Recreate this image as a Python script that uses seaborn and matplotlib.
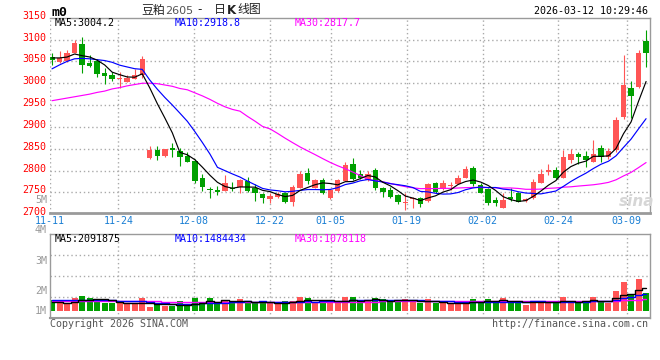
import numpy as np
import pandas as pd
import matplotlib
matplotlib.use("Agg")
import matplotlib.pyplot as plt
import matplotlib.transforms as mtrans
import seaborn as sns

# ---------------- data ----------------
opens = [3060, 3048, 3050, 3070, 3089, 3047, 3052, 3023, 3020, 3010,
         3003, 3010, 3018, 2828, 2848, 2834, 2851, 2844, 2834, 2822,
         2783, 2758, 2755, 2754, 2760, 2762, 2777, 2761, 2746, 2734,
         2740, 2748, 2729, 2761, 2795, 2761, 2778, 2736, 2753, 2777,
         2815, 2791, 2778, 2801, 2761, 2755, 2744, 2726, 2734, 2738,
         2730, 2772, 2757, 2764, 2769, 2783, 2805, 2767, 2757, 2732,
         2715, 2740, 2748, 2730, 2736, 2772, 2797, 2801, 2783, 2825,
         2837, 2833, 2820, 2851, 2831, 2847, 2923, 2988, 2991, 3096]
highs = [3070, 3073, 3077, 3099, 3107, 3064, 3056, 3035, 3026, 3026,
         3018, 3033, 3062, 2857, 2856, 2849, 2862, 2852, 2843, 2826,
         2793, 2763, 2764, 2790, 2774, 2780, 2785, 2770, 2749, 2749,
         2750, 2751, 2767, 2800, 2805, 2780, 2782, 2758, 2780, 2819,
         2828, 2801, 2799, 2805, 2763, 2763, 2746, 2748, 2739, 2740,
         2771, 2774, 2778, 2773, 2790, 2810, 2810, 2771, 2760, 2740,
         2749, 2761, 2751, 2736, 2780, 2803, 2815, 2807, 2847, 2850,
         2843, 2844, 2870, 2858, 2851, 2923, 3065, 3004, 3077, 3123]
lows = [3042, 3046, 3049, 3069, 3023, 3037, 3014, 2998, 3006, 2990,
        3002, 3009, 3011, 2827, 2824, 2830, 2831, 2811, 2819, 2771,
        2753, 2736, 2744, 2752, 2754, 2748, 2751, 2731, 2726, 2726,
        2736, 2726, 2719, 2760, 2768, 2760, 2746, 2735, 2751, 2776,
        2778, 2780, 2776, 2755, 2740, 2736, 2723, 2710, 2713, 2717,
        2728, 2749, 2755, 2755, 2768, 2782, 2765, 2748, 2721, 2719,
        2714, 2730, 2728, 2729, 2735, 2771, 2790, 2780, 2782, 2817,
        2816, 2809, 2819, 2820, 2826, 2843, 2917, 2920, 2988, 3037]
closes = [3054, 3058, 3070, 3092, 3042, 3039, 3021, 3016, 3009, 3013,
          3013, 3018, 3055, 2848, 2833, 2849, 2847, 2831, 2820, 2777,
          2763, 2755, 2750, 2772, 2757, 2778, 2754, 2748, 2736, 2742,
          2746, 2729, 2762, 2793, 2776, 2778, 2749, 2755, 2778, 2812,
          2780, 2782, 2791, 2761, 2751, 2739, 2727, 2729, 2738, 2723,
          2769, 2751, 2772, 2765, 2783, 2803, 2768, 2749, 2726, 2725,
          2732, 2734, 2729, 2735, 2774, 2792, 2801, 2782, 2832, 2838,
          2831, 2825, 2837, 2831, 2844, 2915, 2995, 2971, 3069, 3070]
volumes_m = [1.00, 0.82, 0.76, 1.15, 1.38, 1.15, 1.00, 0.79, 0.71, 0.76,
             0.65, 0.65, 1.15, 0.41, 0.65, 0.47, 0.47, 0.94, 0.47, 1.15,
             0.76, 1.15, 0.82, 1.03, 0.76, 1.06, 0.76, 0.76, 0.71, 0.82,
             0.65, 0.94, 0.94, 1.24, 1.15, 0.85, 0.94, 0.76, 0.76, 1.29,
             1.29, 0.71, 0.94, 1.21, 1.12, 0.82, 0.94, 1.06, 0.94, 0.71,
             1.12, 0.76, 0.71, 0.65, 0.65, 0.94, 1.12, 0.76, 1.12, 0.76,
             1.21, 0.76, 0.76, 0.59, 0.94, 0.94, 0.82, 0.71, 1.29, 0.76,
             0.76, 0.94, 1.29, 0.94, 0.76, 1.85, 2.56, 1.56, 2.91, 1.65]

# moving-average values at the left edge (they depend on days before the window)
ma5_head = [3058, 3058, 3060, 3067]
ma10_head = [3033, 3042, 3050, 3056, 3057, 3056, 3054, 3052, 3048]
ma30_head = [2960, 2963, 2966, 2969, 2972, 2975, 2979, 2982, 2987, 2990,
             2994, 2997, 3000, 3000, 2999, 2996, 2993, 2988, 2985, 2978,
             2971, 2963, 2954, 2946, 2940, 2936, 2924, 2913, 2901]
vma5_head = [0.82, 0.82, 0.74, 0.82]
vma10_head = [1.03, 1.03, 1.02, 1.02, 1.01, 1.01, 1.00, 1.00, 0.99]
vma30_head = [0.91, 0.91, 0.91, 0.91, 0.91, 0.91, 0.91, 0.90, 0.90, 0.90,
              0.90, 0.89, 0.89, 0.89, 0.89, 0.88, 0.88, 0.88, 0.88, 0.87,
              0.87, 0.87, 0.87, 0.86, 0.86, 0.86, 0.86, 0.85, 0.85]

date_labels = ["11-11", "11-24", "12-08", "12-22", "01-05", "01-19", "02-02", "02-24", "03-09"]
date_label_idx = [0, 9, 19, 29, 37, 47, 57, 67, 76]
price_labels = [2700, 2750, 2800, 2850, 2900, 2950, 3000, 3050, 3100, 3150]
vol_labels = ["5M", "4M", "3M", "2M", "1M"]

title_name = "豆粕"
title_code = "2605"
timestamp = "2026-03-12 10:29:46"
price_legend = ["MA5:3004.2", "MA10:2918.8", "MA30:2817.7"]
vol_legend = ["MA5:2091875", "MA10:1484434", "MA30:1078118"]


def with_head(values, head, window):
    s = pd.Series(values, dtype=float).rolling(window).mean().to_numpy()
    s[:len(head)] = head
    return s


n = len(closes)
idx = np.arange(n)
ma5 = with_head(closes, ma5_head, 5)
ma10 = with_head(closes, ma10_head, 10)
ma30 = with_head(closes, ma30_head, 30)
vma5 = with_head(volumes_m, vma5_head, 5)
vma10 = with_head(volumes_m, vma10_head, 10)
vma30 = with_head(volumes_m, vma30_head, 30)

# ---------------- style ----------------
sns.set_theme(style="white")
plt.rcParams["font.family"] = ["DejaVu Sans Mono", "Noto Sans CJK SC"]

RED = "#ff5555"
GREEN = "#00a000"
GRID = "#aaaaaa"
FRAME = "#9a9a9a"
MA_COLORS = ["#000000", "#0000ff", "#ff00ff"]

W, H = 660, 360
fig = plt.figure(figsize=(W / 100, H / 100), dpi=100)
fig.patch.set_facecolor("white")


def fx(px):
    return px / W


def fy(py):
    return 1 - py / H


axp = fig.add_axes([fx(50), fy(212.5), 600 / W, 194.5 / H])
axv = fig.add_axes([fx(50), fy(318), 600 / W, 84 / H])

x_left, x_right = -2 / 7.52, 598 / 7.52
grid_x = [(7.588 * i - 2) / 7.52 for i in date_label_idx]

# ---------------- price panel ----------------
axp.set_xlim(x_left, x_right)
axp.set_ylim(2703.8, 3149.5)
for v in price_labels[1:-1]:
    axp.axhline(v, color=GRID, lw=1, ls=(0, (1, 2)), zorder=0)
for gx in grid_x:
    axp.axvline(gx, color=GRID, lw=1, ls=(0, (1, 2)), zorder=0)

colors = [RED if c >= o else GREEN for o, c in zip(opens, closes)]
axp.vlines(idx, lows, highs, colors=colors, lw=0.8, zorder=2)
body_bottom = np.minimum(opens, closes)
body_h = np.maximum(np.abs(np.array(closes) - np.array(opens)), 1.8)
axp.bar(idx, body_h, bottom=body_bottom, width=0.72, color=colors, lw=0, zorder=3)

for series, col in zip([ma30, ma10, ma5], MA_COLORS[::-1]):
    sns.lineplot(x=idx, y=series, ax=axp, color=col, lw=0.85, legend=False, zorder=4)

axp.set_xticks([])
axp.set_yticks([])
axp.set_xlabel("")
axp.set_ylabel("")
for side in ["top", "right"]:
    axp.spines[side].set_color(FRAME)
    axp.spines[side].set_linewidth(1)
axp.spines["left"].set_visible(False)
axp.spines["bottom"].set_color(FRAME)
axp.spines["bottom"].set_linewidth(2)

lab_tr = mtrans.blended_transform_factory(axp.transAxes, axp.transData) + \
    mtrans.ScaledTranslation(-4 / 100, 2 / 100, fig.dpi_scale_trans)
for v in price_labels:
    axp.text(0, v, str(v), transform=lab_tr, ha="right", va="center",
             color="#ff0000", fontsize=7.2, clip_on=False)

date_tr = mtrans.blended_transform_factory(axp.transData, fig.transFigure)
for gx, lab in zip(grid_x, date_labels):
    axp.text(gx, fy(221.5), lab, transform=date_tr, ha="center", va="center",
             color="#1a7fd4", fontsize=7.2, clip_on=False)

for xpx, txt, col in zip([55, 175, 295], price_legend, MA_COLORS):
    fig.text(fx(xpx), fy(23.5), txt, ha="left", va="center", color=col, fontsize=7.2)

fig.text(fx(637), fy(201), "sina", ha="center", va="center", color="#d6d6d6",
         fontsize=11, fontstyle="italic", fontweight="bold", family="DejaVu Sans")

# ---------------- volume panel ----------------
axv.set_xlim(x_left, x_right)
axv.set_ylim(-0.574, 6.84)
for f in [0.25, 0.5, 0.75]:
    axv.plot([0, 1], [f, f], transform=axv.transAxes, color=GRID, lw=1,
             ls=(0, (1, 2)), zorder=0)
for gx in grid_x[1:]:
    axv.axvline(gx, color=GRID, lw=1, ls=(0, (1, 2)), zorder=0)
axv.bar(idx, volumes_m, width=0.8, color=colors, lw=0, zorder=2)
for series, col in zip([vma30, vma10, vma5], MA_COLORS[::-1]):
    sns.lineplot(x=idx, y=series, ax=axv, color=col, lw=1.0, legend=False,
                 drawstyle="steps-mid", zorder=4)
axv.set_xticks([])
axv.set_yticks([])
axv.set_xlabel("")
axv.set_ylabel("")
for side in ["top", "right", "left", "bottom"]:
    axv.spines[side].set_color(FRAME)
    axv.spines[side].set_linewidth(1)
axv.spines["bottom"].set_linewidth(1.5)

for ypx, lab in zip([200, 230, 261, 291, 311], vol_labels):
    fig.text(fx(47), fy(ypx), lab, ha="right", va="center", color="#999999", fontsize=7.2)

for xpx, txt, col in zip([55, 175, 295], vol_legend, MA_COLORS):
    fig.text(fx(xpx), fy(239), txt, ha="left", va="center", color=col, fontsize=7.2)

# ---------------- header / footer ----------------
fig.text(fx(52), fy(12), "m0", ha="left", va="center", color="black",
         fontsize=9.5, fontweight="bold")
fig.text(fx(141.5), fy(10), title_name, ha="left", va="center", color="#222222",
         fontsize=8.6, family=["Noto Sans CJK SC", "DejaVu Sans"])
fig.text(fx(165.5), fy(10.5), title_code, ha="left", va="center", color="#555555",
         fontsize=8.0, family=["DejaVu Sans"])
fig.text(fx(200), fy(10), "-", ha="center", va="center", color="#222222",
         fontsize=8.6, family=["DejaVu Sans"])
fig.text(fx(214), fy(10), "日", ha="left", va="center", color="#222222",
         fontsize=8.6, family=["Noto Sans CJK SC", "DejaVu Sans"])
fig.text(fx(227), fy(10.5), "K", ha="left", va="center", color="#222222",
         fontsize=8.6, fontweight="bold", family=["DejaVu Sans"])
fig.text(fx(237), fy(10), "线图", ha="left", va="center", color="#222222",
         fontsize=8.6, family=["Noto Sans CJK SC", "DejaVu Sans"])
fig.text(fx(648), fy(11.5), timestamp, ha="right", va="center", color="black", fontsize=7.2)

fig.text(fx(50), fy(324), "Copyright 2026 SINA.COM", ha="left", va="center",
         color="#555555", fontsize=7.2)
fig.text(fx(648), fy(324), "http://finance.sina.com.cn", ha="right", va="center",
         color="#555555", fontsize=7.2)

fig.savefig("out.png", dpi=100, facecolor="white")
